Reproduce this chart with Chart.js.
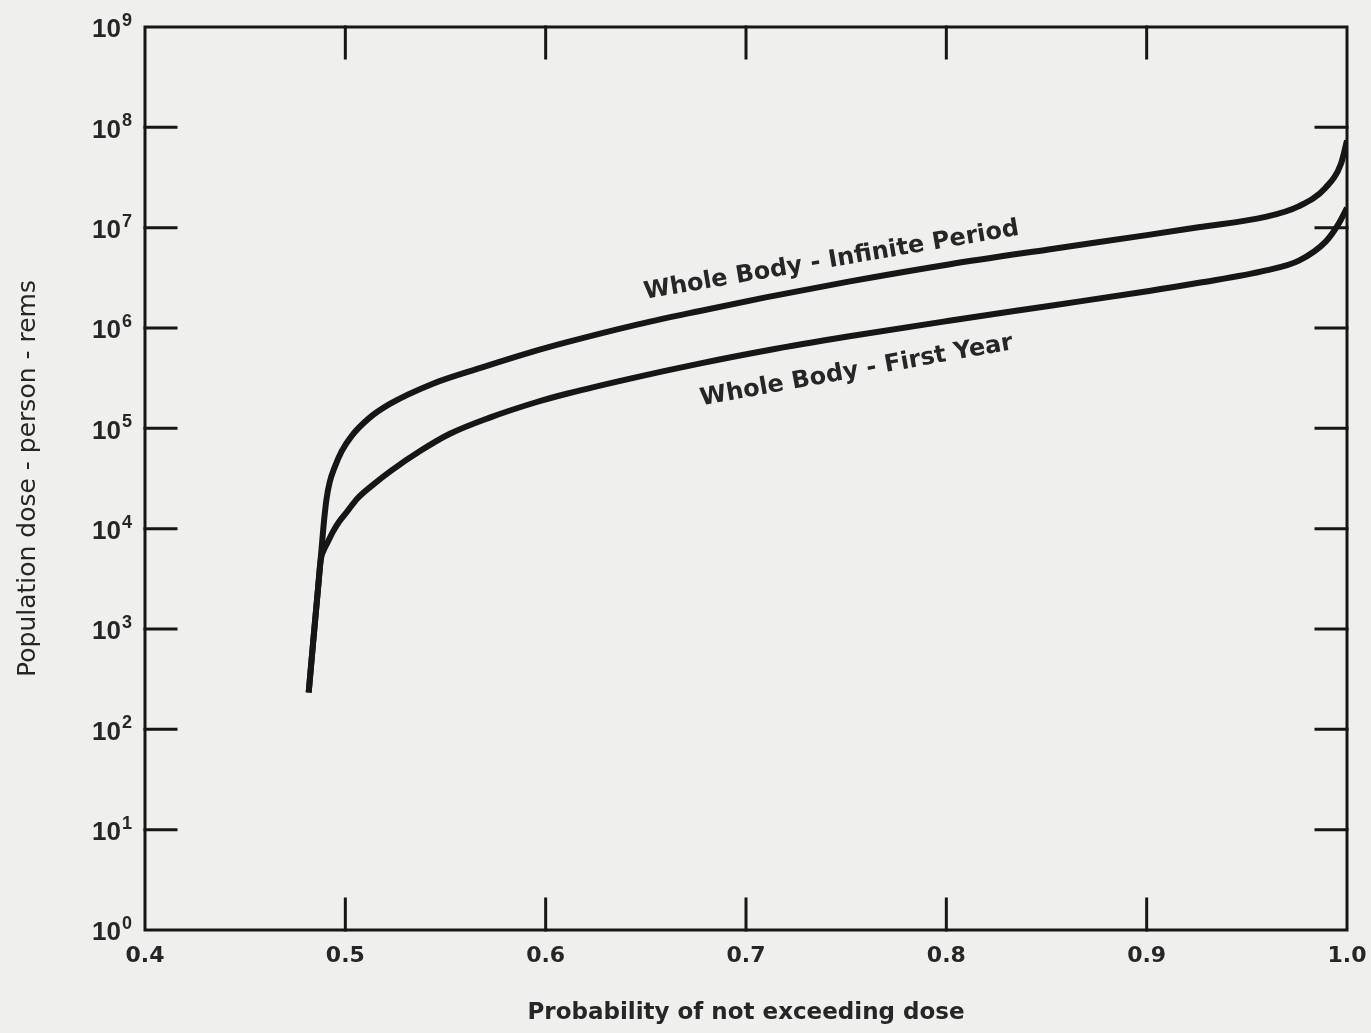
<!DOCTYPE html>
<html><head><meta charset="utf-8">
<script src="https://cdn.jsdelivr.net/npm/chart.js@4/dist/chart.umd.min.js"></script>
<style>html,body{margin:0;padding:0;background:#efefed;}#wrap{width:1371px;height:1033px;}</style>
</head><body><div id="wrap"><canvas id="c" width="1371" height="1033"></canvas></div>
<script>
// ---- data ----
const xTickValues = [0.4, 0.5, 0.6, 0.7, 0.8, 0.9, 1.0];
const yExponents = [0, 1, 2, 3, 4, 5, 6, 7, 8, 9];
const seriesNames = ['Whole Body - Infinite Period', 'Whole Body - First Year'];
const infiniteX = [0.4817,0.4842,0.4862,0.4879,0.4893,0.4906,0.4922,0.4947,0.4982,0.5031,0.5116,0.5220,0.5434,0.5683,0.5932,0.6102,0.6430,0.6764,0.7098,0.7512,0.8011,0.8510,0.9009,0.9258,0.9593,0.9758,0.9892,0.9970,1.0];
const infiniteY = [233,845,2320,5560,11600,19700,29100,41100,59300,83800,125000,174000,277000,405000,578000,718000,1050000,1470000,2020000,2900000,4300000,6070000,8470000,10100000,12800000,16300000,24900000,43400000,74000000];
const firstYearX = [0.4817,0.4842,0.4862,0.4877,0.4892,0.4912,0.4937,0.4967,0.5007,0.5059,0.5139,0.5224,0.5373,0.5522,0.5721,0.5956,0.6105,0.6433,0.6767,0.7102,0.7516,0.8014,0.8512,0.9012,0.9261,0.9596,0.9760,0.9895,0.9958,1.0];
const firstYearY = [233,845,2320,4850,6100,7330,9230,11600,14600,19900,27500,37300,59400,88300,128000,183000,221000,317000,442000,597000,826000,1180000,1660000,2340000,2820000,3750000,4700000,7310000,10900000,15700000];
const labelX = [0.7427, 0.7552];
const labelY = [4.7e6, 3.73e5];
const labelAngleDeg = [-9.7, -10.2];
const xTitle = 'Probability of not exceeding dose';
const yTitle = 'Population dose - person - rems';

const INK = '#161616';
const TXT = '#262626';
const SANS = '"Liberation Sans", Arial, sans-serif';
const WIDE = '"DejaVu Sans", Verdana, sans-serif';
const toPts = (xs, ys) => xs.map((x, i) => ({x: x, y: ys[i]}));

const framePlugin = {
  id: 'frame',
  afterDatasetsDraw(chart) {
    const {ctx, chartArea: a, scales: {x, y}} = chart;
    ctx.save();
    ctx.strokeStyle = INK;
    ctx.lineWidth = 3;
    ctx.lineCap = 'square';
    ctx.strokeRect(a.left, a.top, a.right - a.left, a.bottom - a.top);
    const L = 31;
    ctx.beginPath();
    xTickValues.slice(1, -1).forEach(v => {
      const px = x.getPixelForValue(v);
      ctx.moveTo(px, a.bottom); ctx.lineTo(px, a.bottom - L);
      ctx.moveTo(px, a.top); ctx.lineTo(px, a.top + L);
    });
    yExponents.slice(1, -1).forEach(e => {
      const py = y.getPixelForValue(Math.pow(10, e));
      ctx.moveTo(a.left, py); ctx.lineTo(a.left + L, py);
      ctx.moveTo(a.right, py); ctx.lineTo(a.right - L, py);
    });
    ctx.stroke();
    // y tick labels 10^n
    ctx.fillStyle = TXT;
    ctx.textBaseline = 'middle';
    yExponents.forEach(e => {
      const py = y.getPixelForValue(Math.pow(10, e));
      const right = a.left - 13;
      ctx.font = 'bold 18px ' + SANS;
      const sup = String(e);
      const sw = ctx.measureText(sup).width;
      ctx.textAlign = 'right';
      ctx.fillText(sup, right, py - 6);
      ctx.font = 'bold 26px ' + SANS;
      ctx.fillText('10', right - sw - 1, py + 3);
    });
    // curve labels
    ctx.font = 'bold 24px ' + WIDE;
    ctx.textAlign = 'center';
    seriesNames.forEach((name, i) => {
      const px = x.getPixelForValue(labelX[i]);
      const py = y.getPixelForValue(labelY[i]);
      ctx.save();
      ctx.translate(px, py);
      ctx.rotate(labelAngleDeg[i] * Math.PI / 180);
      ctx.fillText(name, 0, 0);
      ctx.restore();
    });
    ctx.restore();
  }
};

new Chart(document.getElementById('c'), {
  type: 'line',
  data: {
    datasets: [
      {label: seriesNames[0], data: toPts(infiniteX, infiniteY), borderColor: INK, borderWidth: 6, pointRadius: 0, cubicInterpolationMode: 'monotone', fill: false},
      {label: seriesNames[1], data: toPts(firstYearX, firstYearY), borderColor: INK, borderWidth: 6, pointRadius: 0, cubicInterpolationMode: 'monotone', fill: false}
    ]
  },
  options: {
    responsive: false,
    devicePixelRatio: 1,
    animation: false,
    layout: {padding: {left: 0, right: 24, top: 27, bottom: 0}},
    plugins: {legend: {display: false}, tooltip: {enabled: false}},
    scales: {
      x: {
        type: 'linear', min: 0.4, max: 1.0,
        afterBuildTicks: s => { s.ticks = xTickValues.map(v => ({value: v})); },
        afterFit: s => { s.height = 103; s.paddingLeft = 0; s.paddingRight = 0; },
        grid: {display: false, drawTicks: false},
        border: {display: false},
        ticks: {
          color: TXT, padding: 13,
          font: {family: WIDE, size: 22, weight: 'bold'},
          callback: v => Number(v).toFixed(1),
          maxRotation: 0, autoSkip: false
        },
        title: {display: true, text: xTitle, color: TXT, padding: {top: 0, bottom: 6},
          font: {family: WIDE, size: 23, weight: 'bold'}}
      },
      y: {
        type: 'logarithmic', min: 1, max: 1e9,
        afterBuildTicks: s => { s.ticks = yExponents.map(e => ({value: Math.pow(10, e)})); },
        afterFit: s => { s.width = 145; s.paddingTop = 0; s.paddingBottom = 0; },
        grid: {display: false, drawTicks: false},
        border: {display: false},
        ticks: {display: false},
        title: {display: true, text: yTitle, color: TXT, padding: {top: 13, bottom: 0},
          font: {family: WIDE, size: 25, weight: 'normal'}}
      }
    }
  },
  plugins: [framePlugin]
});
</script>
</body></html>
